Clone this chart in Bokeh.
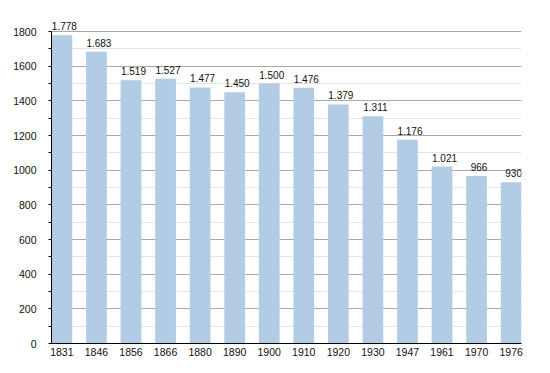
from bokeh.plotting import figure
from bokeh.models import Range1d, FixedTicker, SingleIntervalTicker, ColumnDataSource, LabelSet
from bokeh.core.properties import value
from bokeh.embed import file_html
from bokeh.resources import INLINE

years = ["1831", "1846", "1856", "1866", "1880", "1890", "1900", "1910", "1920", "1930", "1947", "1961", "1970", "1976"]
population = [1778, 1683, 1519, 1527, 1477, 1450, 1500, 1476, 1379, 1311, 1176, 1021, 966, 930]

xs = list(range(len(years)))
labels = [f"{v:,}".replace(",", ".") for v in population]
src = ColumnDataSource(dict(x=xs, top=population, label=labels))

# frame extends above the 1800 line so the top value label is not clipped
y_top = 1800 * 330 / 312

p = figure(width=542, height=365, output_backend="svg", toolbar_location=None,
           x_range=Range1d(-0.3, len(years) - 1 + 0.3), y_range=Range1d(0, y_top),
           min_border_left=51, min_border_right=21, min_border_top=13, min_border_bottom=22)
p.outline_line_color = None

p.vbar(x="x", top="top", width=0.6, source=src, color="#b3cce6", line_color=None)

p.add_layout(LabelSet(x="x", y="top", text="label", source=src, text_align="center",
                      text_baseline="alphabetic", x_offset=2.5, y_offset=5, text_font_size="10px",
                      text_font=value("Liberation Sans"), text_color="#111111"))

yt = SingleIntervalTicker(interval=200, num_minor_ticks=2)
p.yaxis.ticker = yt
p.yaxis.bounds = (0, 1800)
p.ygrid.ticker = yt
p.ygrid.bounds = (0, 1800)
p.ygrid.grid_line_color = "#a8a8a8"
p.ygrid.minor_grid_line_color = "#e4e4e4"
p.xgrid.grid_line_color = None

p.yaxis.major_tick_out = 0
p.yaxis.major_tick_in = 0
p.yaxis.minor_tick_out = 3
p.yaxis.minor_tick_in = 0
p.yaxis.axis_line_color = "black"
p.yaxis.major_label_standoff = 12
p.yaxis.major_label_text_font_size = "10.5px"
p.yaxis.major_label_text_font = "Liberation Sans"
p.yaxis.major_label_text_color = "#111111"

p.xaxis.ticker = FixedTicker(ticks=xs)
p.xaxis.major_label_overrides = {i: y for i, y in enumerate(years)}
p.xaxis.major_tick_out = 0
p.xaxis.major_tick_in = 0
p.xaxis.minor_tick_out = 0
p.xaxis.axis_line_color = "black"
p.xaxis.major_label_standoff = 4
p.xaxis.major_label_text_font_size = "10.5px"
p.xaxis.major_label_text_font = "Liberation Sans"
p.xaxis.major_label_text_color = "#111111"

open("out.html", "w").write(file_html(p, INLINE))
